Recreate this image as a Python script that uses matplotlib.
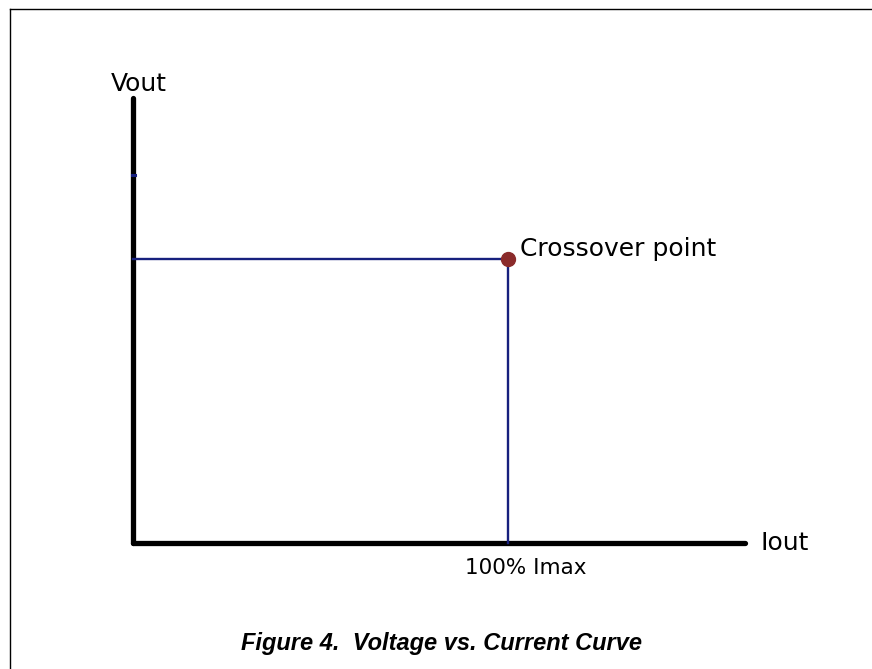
import matplotlib as mpl
mpl.use('Agg')
import matplotlib.pyplot as plt
from matplotlib.lines import Line2D

# 値（Imax = 1.0, 設定電圧 = 1.0 として正規化）
iout_max = 1.0          # 100% Imax
vout_set = 1.0          # 交差点の電圧
vout_tick = 1.296       # 縦軸上の小さな目盛り
x_end = 1.632           # 横軸の長さ
y_end = 1.567           # 縦軸の長さ

crossover_x = [iout_max]
crossover_y = [vout_set]

BLUE = '#17207e'
DOT = '#8b2b2b'

fig = plt.figure(figsize=(8.72, 6.69), dpi=100)
ax = fig.add_axes([133 / 872, 1 - 543 / 669, (745 - 133) / 872, (543 - 98) / 669])
ax.set_xlim(0, x_end)
ax.set_ylim(0, y_end)
ax.patch.set_visible(False)

# 軸
for side in ('top', 'right'):
    ax.spines[side].set_visible(False)
for side in ('left', 'bottom'):
    ax.spines[side].set_linewidth(3.8)
    ax.spines[side].set_color('black')
    ax.spines[side].set_capstyle('round')
ax.set_xticks([])
ax.set_yticks([])

# 定電圧・定電流の線
ax.plot([0, iout_max], [vout_set, vout_set], color=BLUE, lw=1.7, zorder=3, clip_on=False)
ax.plot([iout_max, iout_max], [0, vout_set], color=BLUE, lw=1.7, zorder=3, clip_on=False)
ax.plot([-0.004, 0.004], [vout_tick, vout_tick], color=BLUE, lw=2.2, zorder=3, clip_on=False)
ax.plot(crossover_x, crossover_y, 'o', color=DOT, ms=10, zorder=4, clip_on=False)

# ラベル
ax.text(0.016, 1.592, 'Vout', fontsize=18, ha='center', va='baseline')
ax.text(1.672, 0.0, 'Iout', fontsize=18, ha='left', va='center')
ax.text(1.048, -0.053, '100% Imax', fontsize=15.5, ha='center', va='top')
ax.text(1.032, 1.012, 'Crossover point', fontsize=18, ha='left', va='baseline')

# 枠線（上と左のみ）
fig.add_artist(Line2D([10 / 872, 1.0], [1 - 9 / 669, 1 - 9 / 669], color='black', lw=1.0))
fig.add_artist(Line2D([10 / 872, 10 / 872], [0.0, 1 - 9 / 669], color='black', lw=1.0))

fig.text(441 / 872, 1 - 650 / 669, 'Figure 4.  Voltage vs. Current Curve',
         family=['Liberation Sans Narrow', 'Liberation Sans', 'DejaVu Sans'],
         fontsize=17, fontweight='bold', fontstyle='italic', ha='center', va='baseline')

fig.savefig('out.png', dpi=100)
